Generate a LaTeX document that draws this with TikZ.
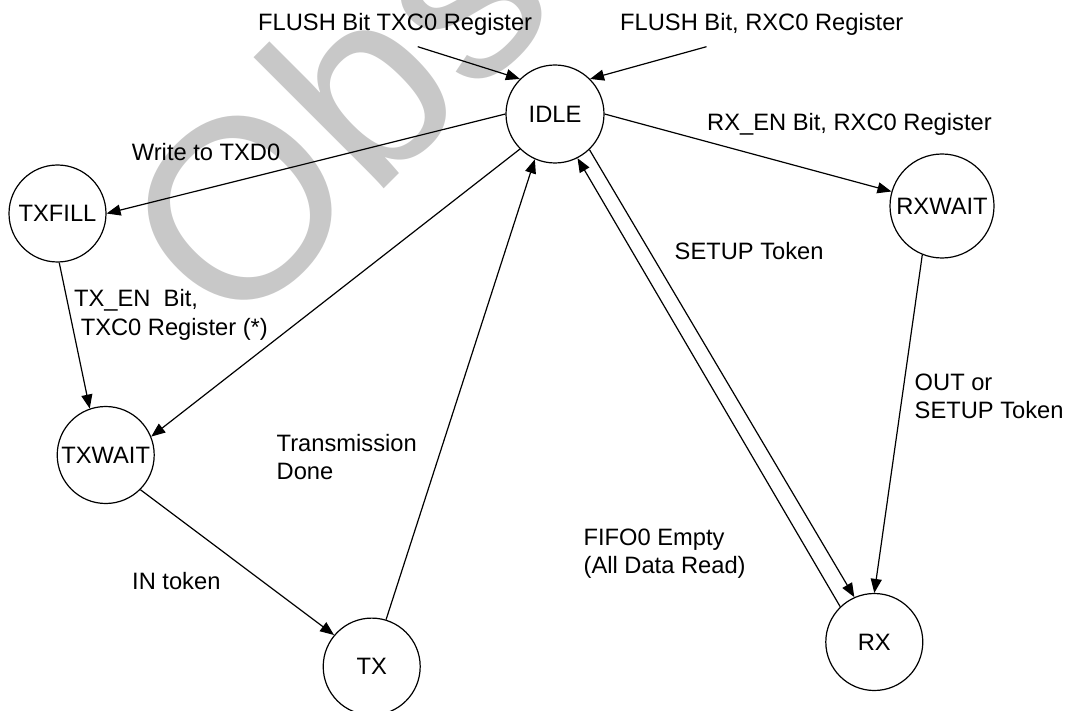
\documentclass[tikz,border=0pt]{standalone}
\usepackage{fontspec}
\setmainfont{Liberation Sans}
\usetikzlibrary{arrows.meta}
\definecolor{wmgray}{RGB}{200,200,200}
\newcommand\twoline[2]{\begin{tabular}[t]{@{}l@{}}#1\\#2\end{tabular}}
\begin{document}
\begin{tikzpicture}[x=1pt,y=-1pt,
  state/.style={draw,circle,line width=1.2pt,inner sep=0pt,minimum size=97pt},
  lbl/.style={anchor=base west,inner sep=0pt},
  arr/.style={line width=1.2pt,-{Triangle[length=14pt,width=11pt]}},
  font=\fontsize{23.7}{28.6}\selectfont]
\useasboundingbox (0,0) rectangle (1070,711);
\clip (0,0) rectangle (1070,711);
% watermark
\node[anchor=base west,inner sep=0pt,rotate=45,text=wmgray,font=\fontsize{255}{255}\selectfont] (wm) at (232.5,340.5) {Obs};
% states
\node[state,minimum size=98pt] (idle) at (555,114) {IDLE};
\node[state] (txfill) at (57.5,213.5) {TXFILL};
\node[state] (txwait) at (105.7,455) {TXWAIT};
\node[state] (tx) at (371.7,666.6) {TX};
\node[state,minimum size=104pt] (rxwait) at (942,206) {RXWAIT};
\node[state] (rx) at (874.3,642) {RX};
% free ends
\coordinate (f1) at (417.7,46.7);
\coordinate (f2) at (706.5,46.7);
% transitions
\draw[arr] (f1) -- (idle.135);
\draw[arr] (f2) -- (idle.45);
\draw[arr] (idle.west) -- (txfill.east);
\draw[arr] (idle.225) -- (txwait.22);
\draw[arr] (txfill.272) -- (txwait.109);
\draw[arr] (txwait.-45) -- (tx.140);
\draw[arr] (tx.73) -- (idle.246);
\draw[arr] (idle.314) -- (rx.114);
\draw[arr] (rx.134) -- (idle.297);
\draw[arr] (idle.east) -- (rxwait.164);
\draw[arr] (rxwait.248) -- (rx.90);
% labels
\node[lbl] (l1) at (258,30.5) {FLUSH Bit TXC0 Register};
\node[lbl] (l2) at (620,30.5) {FLUSH Bit, RXC0 Register};
\node[lbl] (l3) at (131.7,160.7) {Write to TXD0};
\node[lbl] (l4) at (707,131) {RX\_EN Bit, RXC0 Register};
\node[lbl] (l5) at (674.5,260) {SETUP Token};
\node[lbl] (l6) at (74,306.7) {\twoline{TX\_EN\ \ Bit,}{\ TXC0 Register (*)}};
\node[lbl] (l7) at (914.5,390) {\twoline{OUT or}{SETUP Token}};
\node[lbl] (l8) at (276.5,451) {\twoline{Transmission}{Done}};
\node[lbl] (l9) at (583.4,545) {\twoline{FIFO0 Empty}{(All Data Read)}};
\node[lbl] (l10) at (132,589.3) {IN token};
\end{tikzpicture}
\end{document}
